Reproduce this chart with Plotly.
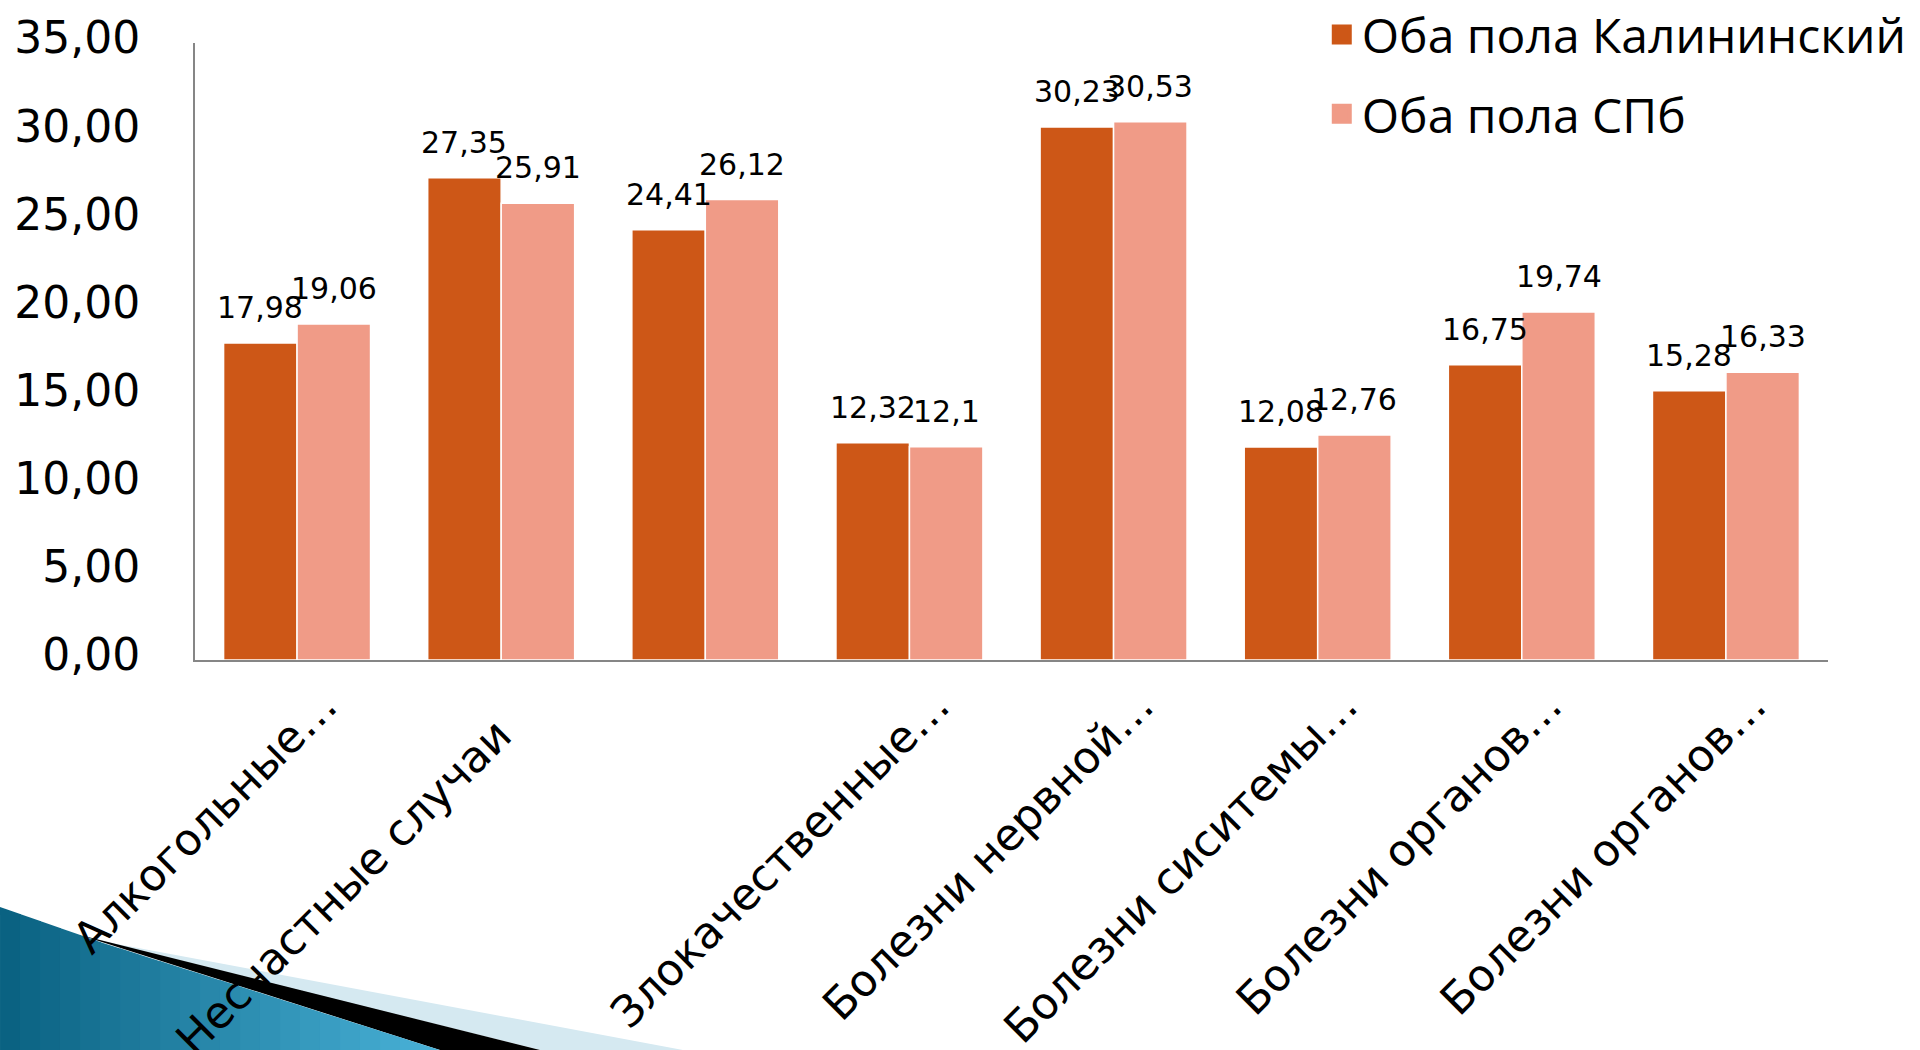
import plotly.graph_objects as go

# ---- data ----
cat_labels = ["Алкогольные…", "Несчастные случаи\u00a0\u00a0\u00a0", "", "Злокачественные…",
              "Болезни нервной…", "Болезни сиситемы…", "Болезни органов…", "Болезни органов…"]
series_names = ["Оба пола Калининский", "Оба пола СПб"]
kalininsky = [17.98, 27.35, 24.41, 12.32, 30.23, 12.08, 16.75, 15.28]
spb = [19.06, 25.91, 26.12, 12.1, 30.53, 12.76, 19.74, 16.33]
y_ticks = [0, 5, 10, 15, 20, 25, 30, 35]

DARK = "#CD5717"
LIGHT = "#F09B87"
BARGAP = 0.28


def fmt(v):
    return ("%g" % v).replace(".", ",")


x = list(range(len(kalininsky)))

fig = go.Figure()
fig.add_trace(go.Bar(x=x, y=kalininsky, name=series_names[0], showlegend=False,
                     marker=dict(color=DARK, line=dict(color="white", width=1.5))))
fig.add_trace(go.Bar(x=x, y=spb, name=series_names[1], showlegend=False,
                     marker=dict(color=LIGHT, line=dict(color="white", width=1.5))))
# legend entries (larger square swatches)
for name, col, grp in ((series_names[0], DARK, "a"), (series_names[1], LIGHT, "b")):
    fig.add_trace(go.Scatter(x=[None], y=[None], mode="markers", name=name, legendgroup=grp,
                             marker=dict(symbol="square", size=16, color=col,
                                         line=dict(color=col, width=4))))

w = (1 - BARGAP) / 2
annotations = []
for i in x:
    for off, val in ((-w / 2, kalininsky[i]), (w / 2, spb[i])):
        annotations.append(dict(x=i + off, y=val, text=fmt(val), showarrow=False,
                                xref="x", yref="y", yanchor="bottom", yshift=16,
                                font=dict(family="DejaVu Sans", size=30, color="#000")))

# decorative slide corner (pixel positions converted to paper coords)
PL, PR, PT, PB = 195, 1828, 43, 660


def px(xp):
    return (xp - PL) / (PR - PL)


def py(yp):
    return (PB - yp) / (PB - PT)


def path(points):
    return "M " + " L ".join(f"{px(a):.4f},{py(b):.4f}" for a, b in points) + " Z"


def deco(points, color):
    return dict(type="path", xref="paper", yref="paper", layer="below", line=dict(width=0),
                fillcolor=color, path=path(points))


def ytop(xp):
    if xp <= 100:
        return 907 + 0.35 * xp
    return 942 + (xp - 100) * (108 / 340)


shapes = [
    deco([(90, 939), (683, 1050), (540, 1050)], "#d5e9f1"),
    deco([(80, 935), (540, 1050), (440, 1050)], "#000000"),
]
c0 = (10, 98, 130)
c1 = (72, 176, 214)
n = 22
for k in range(n):
    x0 = 440 * k / n
    x1 = min(440, 440 * (k + 1) / n + 1)
    t = k / (n - 1)
    col = "rgb(%d,%d,%d)" % tuple(round(a + (b - a) * t) for a, b in zip(c0, c1))
    shapes.append(deco([(x0, ytop(x0)), (x1, ytop(x1)), (x1, 1050), (x0, 1050)], col))

fig.update_layout(
    width=1920, height=1050,
    margin=dict(l=PL, r=1920 - PR, t=PT, b=1050 - PB, autoexpand=False),
    paper_bgcolor="white", plot_bgcolor="white",
    barmode="group", bargap=BARGAP, bargroupgap=0.0,
    separators=", ",
    font=dict(family="DejaVu Sans", color="#000"),
    showlegend=True,
    legend=dict(x=0.69, xanchor="left", y=1.075, yanchor="top",
                font=dict(family="Open Sans", size=48, color="#000"),
                bgcolor="rgba(0,0,0,0)", itemwidth=30, tracegroupgap=14),
    annotations=annotations,
    shapes=shapes,
)
fig.update_xaxes(range=[-0.5, len(x) - 0.5], tickmode="array", tickvals=x, ticktext=cat_labels,
                 tickangle=-45, showline=True, linecolor="#868686", linewidth=2,
                 showgrid=False, zeroline=False, ticks="", ticklabelshift=27,
                 tickfont=dict(family="DejaVu Sans", size=44, color="#000"))
fig.update_yaxes(range=[0, 35], tickmode="array", tickvals=y_ticks, tickformat=".2f",
                 showline=True, linecolor="#868686", linewidth=2, showgrid=False, zeroline=False,
                 ticks="", ticklabelstandoff=44, ticklabelshift=-5,
                 tickfont=dict(family="DejaVu Sans", size=44, color="#000"))

fig.write_html("out.html")
